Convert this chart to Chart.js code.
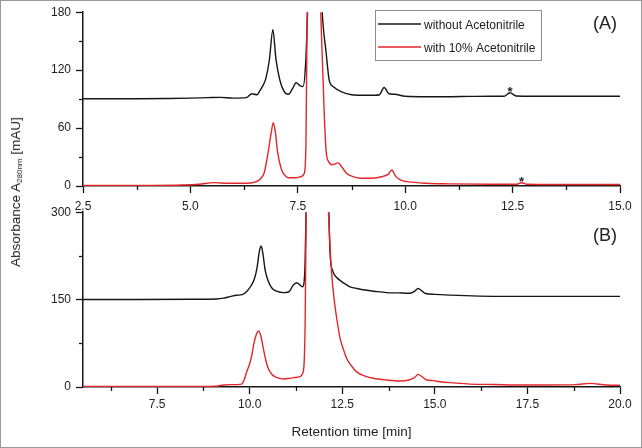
<!DOCTYPE html>
<html>
<head>
<meta charset="utf-8">
<script src="https://cdn.jsdelivr.net/npm/chart.js@4.4.1/dist/chart.umd.min.js"></script>
<style>
  html, body { margin: 0; padding: 0; background: #fff; }
  #wrap { position: relative; width: 642px; height: 448px; overflow: hidden; font-family: 'Liberation Sans', Arial, sans-serif; color: #222; }
  #wrap canvas { position: absolute; left: 0; }
  #frame { position: absolute; left: 0; top: 0; width: 642px; height: 448px; box-sizing: border-box; border: 1px solid #9a9a9a; pointer-events: none; }
  #ytitle { position: absolute; left: 16px; top: 192px; transform: translate(-50%, -50%) rotate(-90deg); white-space: nowrap; font-size: 13.5px; }
  #ytitle sub { font-size: 8px; vertical-align: -2px; }
  .tag { position: absolute; font-size: 18px; line-height: 20px; }
</style>
</head>
<body>
<div id="wrap">
  <canvas id="chartA" width="642" height="215" style="top:0"></canvas>
  <canvas id="chartB" width="642" height="248" style="top:200px"></canvas>
  <div id="ytitle">Absorbance A<sub>280nm</sub> [mAU]</div>
  <div class="tag" style="left:593px; top:13px">(A)</div>
  <div class="tag" style="left:593px; top:225px">(B)</div>
  <div id="frame"></div>
</div>
<script>
// Panel A: retention time [min] / absorbance [mAU]
const timeA_without = [2.5, 3.5, 4.5, 5.0, 5.4, 5.7, 6.0, 6.3, 6.43, 6.55, 6.62, 6.7, 6.76, 6.84, 6.92, 6.99, 7.08, 7.18, 7.28, 7.38, 7.46, 7.55, 7.62, 7.68, 7.73, 7.9, 8.06, 8.08, 8.16, 8.23, 8.33, 8.52, 8.75, 9.0, 9.3, 9.4, 9.51, 9.62, 9.75, 10.0, 10.5, 11.0, 11.5, 12.0, 12.3, 12.44, 12.58, 13.0, 14.0, 15.0];
const absA_without = [90.3, 90.4, 90.6, 91, 91.5, 91.8, 91, 91.5, 95.5, 94.5, 99, 105, 112, 131, 162, 132, 110, 98, 95, 101, 107, 104, 103, 125, 185, 500, 190, 172, 138, 110, 102.7, 97.5, 94.5, 94, 94, 94.5, 102, 95.5, 95, 93, 92.5, 92.5, 92.8, 93, 93, 96.5, 93.2, 93, 93, 93];

const timeA_with = [2.5, 4.0, 4.8, 5.2, 5.55, 5.9, 6.3, 6.5, 6.62, 6.72, 6.81, 6.88, 6.93, 6.98, 7.03, 7.12, 7.2, 7.28, 7.45, 7.58, 7.65, 7.69, 7.72, 7.87, 8.03, 8.08, 8.12, 8.16, 8.22, 8.3, 8.44, 8.52, 8.64, 8.8, 8.95, 9.2, 9.45, 9.6, 9.69, 9.78, 9.9, 10.05, 10.5, 11.0, 12.0, 12.6, 12.71, 12.82, 13.5, 15.0];
const absA_with = [0.5, 0.6, 1.0, 1.8, 3.5, 2.8, 2.8, 4, 7, 14, 35, 55, 65.5, 55, 35, 17, 11, 8.5, 8.5, 9.8, 13, 45, 190, 600, 190, 120, 70, 36, 25, 22, 24, 20, 13, 9.5, 8, 8, 9.6, 12, 16.5, 10, 6, 4.5, 2.8, 2.2, 1.8, 1.8, 3.4, 1.8, 1.6, 1.5];

// Panel B
const timeB_without = [5.5, 7.0, 8.5, 9.1, 9.3, 9.47, 9.65, 9.8, 9.92, 10.05, 10.14, 10.2, 10.26, 10.31, 10.36, 10.42, 10.5, 10.6, 10.75, 10.9, 11.05, 11.18, 11.27, 11.36, 11.43, 11.49, 11.53, 11.85, 12.13, 12.17, 12.25, 12.35, 12.44, 12.6, 12.71, 12.9, 13.16, 13.4, 13.7, 14.0, 14.33, 14.45, 14.55, 14.65, 14.75, 15.0, 15.4, 16.2, 17.0, 18.5, 20.0];
const absB_without = [150.3, 150.3, 150.5, 151, 152.5, 155, 157.5, 158.5, 164, 175, 188, 205, 232, 242, 228, 200, 182, 170, 164, 162, 163, 175, 179, 175, 172, 200, 320, 700, 320, 230, 198, 188, 183, 176, 172, 169, 166, 164, 162, 161.5, 161, 164, 169, 165, 160.5, 159, 157.7, 156, 155.5, 155.5, 155.5];

const timeB_with = [5.5, 7.0, 8.5, 9.1, 9.3, 9.5, 9.78, 9.85, 9.92, 10.0, 10.05, 10.12, 10.18, 10.24, 10.3, 10.37, 10.44, 10.5, 10.6, 10.68, 10.8, 10.91, 11.05, 11.18, 11.36, 11.42, 11.47, 11.5, 11.53, 11.8, 12.12, 12.21, 12.3, 12.37, 12.44, 12.53, 12.62, 12.75, 12.89, 13.1, 13.34, 13.7, 14.06, 14.3, 14.45, 14.55, 14.65, 14.78, 14.96, 15.14, 15.5, 15.95, 16.6, 17.3, 18.0, 18.8, 19.19, 19.64, 20.0];
const absB_with = [0.8, 0.8, 1, 1.5, 3.4, 4, 5, 12, 26, 40, 52, 76, 90, 96, 88, 66, 45, 32, 22, 17.7, 15, 13.7, 14.5, 16, 17.7, 22, 40, 120, 320, 800, 310, 198, 141, 110, 84, 65, 49, 36, 26, 19, 15, 12, 10.3, 12, 16, 21.7, 18, 12, 11, 9, 7, 5, 4.3, 3.4, 3.4, 4, 6.3, 3.4, 3];

// asterisk marks in panel A (time, absorbance)
const starA_time = [12.44, 12.71];
const starA_abs = [96.5, 3.4];

const seriesNames = ['without Acetonitrile', 'with 10% Acetonitrile'];
const BLACK = '#161616';
const RED = '#e3262a';
const FONT = "'Liberation Sans', Arial, sans-serif";

const pts = (xs, ys) => xs.map((x, i) => ({ x: x, y: ys[i] }));

function lineSet(label, data, color, order) {
    return {
        label: label,
        data: data,
        borderColor: color,
        backgroundColor: color,
        borderWidth: 1.4,
        pointRadius: 0,
        fill: false,
        cubicInterpolationMode: 'monotone',
        order: order
    };
}

// small ticks half way between the labelled ones
const minorTicks = {
    id: 'minorTicks',
    afterDraw(chart) {
        const ctx = chart.ctx;
        ctx.save();
        ctx.strokeStyle = BLACK;
        ctx.lineWidth = 1.3;
        Object.values(chart.scales).forEach(scale => {
            const t = scale.ticks;
            if (t.length < 2) return;
            const step = t[1].value - t[0].value;
            for (let v = t[0].value - step / 2; v <= scale.max + 1e-9; v += step) {
                if (v < scale.min - 1e-9) continue;
                const p = Math.round(scale.getPixelForValue(v)) + 0.5;
                ctx.beginPath();
                if (scale.isHorizontal()) {
                    ctx.moveTo(p, scale.top);
                    ctx.lineTo(p, scale.top + 4);
                } else {
                    ctx.moveTo(scale.right, p);
                    ctx.lineTo(scale.right - 4, p);
                }
                ctx.stroke();
            }
        });
        ctx.restore();
    }
};

// legend box drawn inside panel A
const legendBox = {
    id: 'legendBox',
    afterDraw(chart) {
        const ctx = chart.ctx;
        ctx.save();
        ctx.fillStyle = '#fff';
        ctx.fillRect(375.5, 10.5, 166, 50);
        ctx.strokeStyle = '#8c8c8c';
        ctx.lineWidth = 1;
        ctx.strokeRect(375.5, 10.5, 166, 50);
        chart.data.datasets.forEach((ds, i) => {
            const y = 24 + i * 23;
            ctx.strokeStyle = ds.borderColor;
            ctx.lineWidth = 1.5;
            ctx.beginPath();
            ctx.moveTo(378, y);
            ctx.lineTo(421, y);
            ctx.stroke();
            ctx.fillStyle = '#222';
            ctx.font = '12px ' + FONT;
            ctx.textBaseline = 'middle';
            ctx.textAlign = 'left';
            ctx.fillText(ds.label, 424, y + 2);
        });
        ctx.restore();
    }
};

// asterisks above the small peaks
const starMarks = {
    id: 'starMarks',
    afterDatasetsDraw(chart) {
        const ctx = chart.ctx;
        ctx.save();
        ctx.fillStyle = '#222';
        ctx.font = 'bold 13px ' + FONT;
        ctx.textAlign = 'center';
        ctx.textBaseline = 'alphabetic';
        starA_time.forEach((t, i) => {
            const x = chart.scales.x.getPixelForValue(t);
            const y = chart.scales.y.getPixelForValue(starA_abs[i]);
            ctx.fillText('*', x, y + 3.5);
        });
        ctx.restore();
    }
};

function axisX(min, max, pad, title) {
    return {
        type: 'linear',
        min: min,
        max: max,
        ticks: {
            stepSize: 2.5,
            includeBounds: false,
            autoSkip: false,
            maxRotation: 0,
            padding: pad,
            color: '#222',
            font: { family: FONT, size: 12 },
            callback: v => v.toFixed(1)
        },
        grid: { drawOnChartArea: false, tickLength: 7, tickWidth: 1.3, tickColor: BLACK },
        border: { color: BLACK, width: 1.5 },
        title: title ? {
            display: true,
            text: title,
            color: '#222',
            font: { family: FONT, size: 13.5 },
            padding: { top: 2, bottom: 8 }
        } : { display: false }
    };
}

function axisY(max, step) {
    return {
        min: 0,
        max: max,
        ticks: {
            stepSize: step,
            padding: 5,
            color: '#222',
            font: { family: FONT, size: 12 },
            callback: v => String(v)
        },
        grid: { drawOnChartArea: false, tickLength: 7, tickWidth: 1.3, tickColor: BLACK },
        border: { color: BLACK, width: 1.5 },
        afterFit: s => { s.width = 83; }
    };
}

const baseOptions = {
    responsive: false,
    animation: false,
    events: [],
    plugins: { legend: { display: false }, tooltip: { enabled: false } }
};

// Panel A
const xA = axisX(2.5, 15, 6, null);
xA.afterFit = s => { s.height = 29; };
new Chart(document.getElementById('chartA'), {
    type: 'line',
    data: {
        datasets: [
            lineSet(seriesNames[0], pts(timeA_without, absA_without), BLACK, 2),
            lineSet(seriesNames[1], pts(timeA_with, absA_with), RED, 1)
        ]
    },
    options: Object.assign({}, baseOptions, {
        layout: { padding: { left: 0, right: 22, top: 12, bottom: 0 } },
        scales: { x: xA, y: axisY(180, 60) }
    }),
    plugins: [minorTicks, legendBox, starMarks]
});

// Panel B
const xB = axisX(5.5, 20, 3, 'Retention time [min]');
xB.afterFit = s => { s.height = 61; };
new Chart(document.getElementById('chartB'), {
    type: 'line',
    data: {
        datasets: [
            lineSet(seriesNames[0], pts(timeB_without, absB_without), BLACK, 2),
            lineSet(seriesNames[1], pts(timeB_with, absB_with), RED, 1)
        ]
    },
    options: Object.assign({}, baseOptions, {
        layout: { padding: { left: 0, right: 22, top: 12, bottom: 0 } },
        scales: { x: xB, y: axisY(300, 150) }
    }),
    plugins: [minorTicks]
});
</script>
</body>
</html>
